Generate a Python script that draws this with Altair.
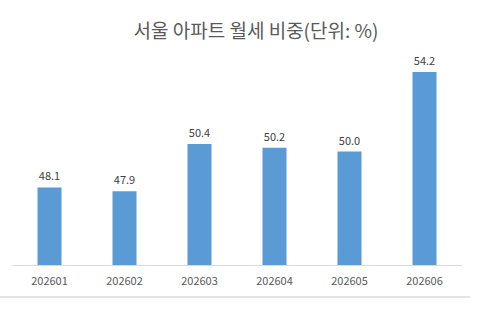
import altair as alt
import pandas as pd

months = ["202601", "202602", "202603", "202604", "202605", "202606"]
shares = [48.1, 47.9, 50.4, 50.2, 50.0, 54.2]
labels = ["48.1", "47.9", "50.4", "50.2", "50.0", "54.2"]

df = pd.DataFrame({"month": months, "share": shares, "label": labels})

FONT = "Noto Sans CJK KR"

x = alt.X(
    "month:N",
    sort=months,
    title=None,
    scale=alt.Scale(paddingInner=0.68, paddingOuter=0.34),
    axis=alt.Axis(
        labelAngle=0,
        ticks=False,
        domainColor="#D9D9D9",
        domainWidth=1,
        labelColor="#595959",
        labelFontSize=11,
        labelFont=FONT,
        labelPadding=10,
    ),
)
y = alt.Y(
    "share:Q",
    title=None,
    scale=alt.Scale(domain=[44, 56], zero=False, nice=False, clamp=True),
    axis=None,
)

bars = alt.Chart(df).mark_bar(color="#5B9BD5").encode(x=x, y=y)
text = alt.Chart(df).mark_text(
    baseline="bottom", dy=-5, fontSize=11, font=FONT, color="#404040"
).encode(x=x, y=y, text="label:N")

bottom_line = alt.Chart(df).mark_rule(color="#E3E3E3", strokeWidth=1).encode(
    x=alt.value(-12), x2=alt.value(458), y=alt.value(259)
)

chart = (
    alt.layer(bars, text, bottom_line)
    .properties(
        width=450,
        height=227,
        padding={"left": 12, "top": 38, "right": 19, "bottom": 48},
        autosize=alt.AutoSizeParams(type="none"),
        title=alt.TitleParams(
            "서울 아파트 월세 비중(단위: %)",
            font=FONT,
            fontSize=19,
            fontWeight="normal",
            color="#595959",
            anchor="middle",
            dx=19,
            offset=-4,
        ),
    )
    .configure(background="white", view=alt.ViewConfig(stroke=None))
)

chart.save("out.html", embed_options={"renderer": "svg", "actions": False})
